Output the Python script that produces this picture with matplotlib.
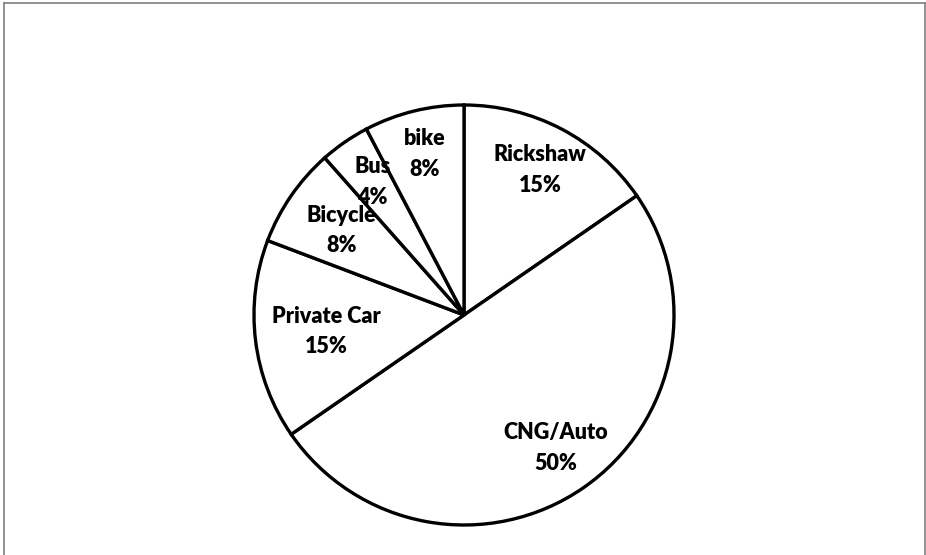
import numpy as np
import matplotlib.pyplot as plt
from matplotlib.lines import Line2D

# travel mode counts (shares)
modes = ['Rickshaw', 'CNG/Auto', 'Private Car', 'Bicycle', 'Bus', 'bike']
counts = [4, 13, 4, 2, 1, 2]

# radial position of each label, as a fraction of the radius
label_r = [0.78, 0.77, 0.66, 0.71, 0.77, 0.79]

W, H = 926, 555
cx, cy, rad = 464, 315, 210

fig = plt.figure(figsize=(W / 100, H / 100), dpi=100)
ax = fig.add_axes([0, 0, 1, 1])

wedges, _ = ax.pie(counts, startangle=90, counterclock=False, radius=1,
                   colors=['white'] * len(counts),
                   wedgeprops=dict(edgecolor='black', linewidth=2.4))

total = sum(counts)
for w, name, v, f in zip(wedges, modes, counts, label_r):
    mid = np.deg2rad((w.theta1 + w.theta2) / 2)
    pct = v / total * 100
    ax.text(f * np.cos(mid), f * np.sin(mid), f"{name}\n{pct:.0f}%",
            ha='center', va='center', fontsize=15.5, fontweight='heavy',
            family=['Lato', 'DejaVu Sans'], linespacing=1.55, color='black')

ax.set_xlim(-cx / rad, (W - cx) / rad)
ax.set_ylim(-(H - cy) / rad, cy / rad)
ax.set_aspect('auto')
ax.axis('off')

# grey outer frame (bottom edge falls outside the picture)
x0, x1, y1 = 3.5 / W, 924.5 / W, 1 - 2.5 / H
for xs, ys in [([x0, x0], [0, y1]), ([x0, x1], [y1, y1]), ([x1, x1], [y1, 0])]:
    fig.add_artist(Line2D(xs, ys, color='#7f7f7f', linewidth=1.2,
                          transform=fig.transFigure))

plt.savefig('out.png', dpi=100)
